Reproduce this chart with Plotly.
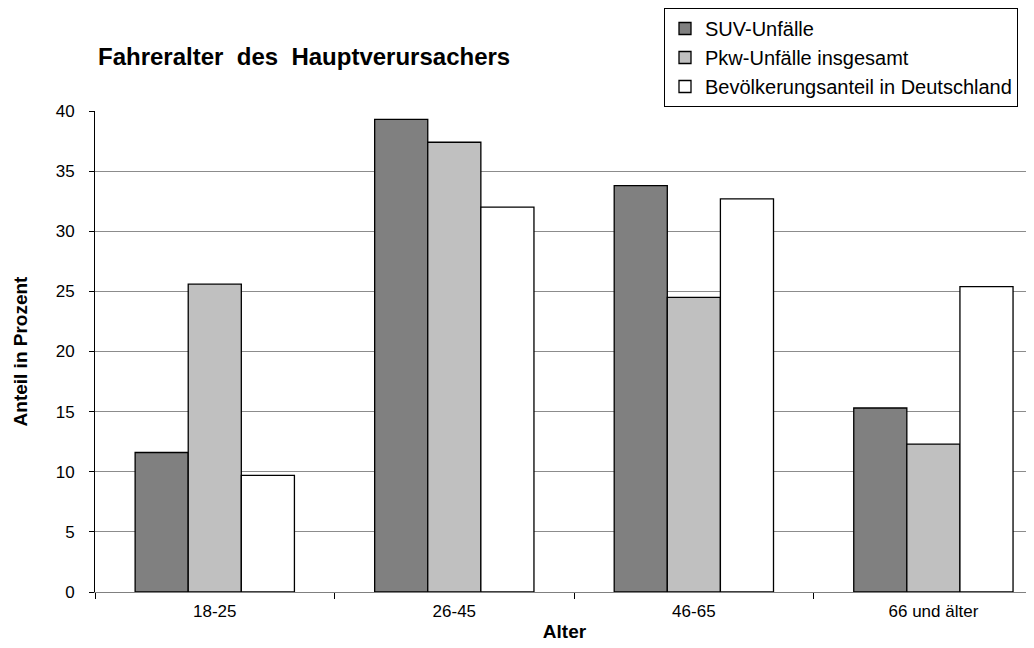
import plotly.graph_objects as go

categories = ["18-25", "26-45", "46-65", "66 und älter"]
suv_unfaelle = [11.6, 39.3, 33.8, 15.3]
pkw_unfaelle = [25.6, 37.4, 24.5, 12.3]
bevoelkerung = [9.7, 32.0, 32.7, 25.4]
y_ticks = [0, 5, 10, 15, 20, 25, 30, 35, 40]

FONT = "Liberation Sans, Arial, sans-serif"

fig = go.Figure()
series = [
    ("SUV-Unfälle", suv_unfaelle, "#808080"),
    ("Pkw-Unfälle insgesamt", pkw_unfaelle, "#c0c0c0"),
    ("Bevölkerungsanteil in Deutschland", bevoelkerung, "#ffffff"),
]
for i, (name, vals, col) in enumerate(series):
    fig.add_trace(go.Bar(
        x=categories, y=vals, name=name, legendgroup=f"g{i}",
        marker=dict(color=col, line=dict(color="#000000", width=1.3)),
    ))

# page has an 8px body margin; figure sized to fill the rest of the window
fig.update_layout(
    width=1026, height=640,
    margin=dict(l=87, r=0, t=103, b=56, autoexpand=False),
    paper_bgcolor="white", plot_bgcolor="white",
    barmode="group", bargap=0.335, bargroupgap=0,
    font=dict(family=FONT, size=17, color="#000000"),
    title=dict(text="<b>Fahreralter\u00a0 des\u00a0 Hauptverursachers</b>",
               font=dict(family=FONT, size=24, color="#000000"),
               x=90 / 1026, xref="container", xanchor="left",
               y=1 - 49 / 640, yref="container", yanchor="middle"),
    legend=dict(x=(664 - 95) / 939, xanchor="left", y=(592 - 8) / 481, yanchor="top",
                bgcolor="white", bordercolor="#000000", borderwidth=1,
                font=dict(family=FONT, size=20, color="#000000"),
                traceorder="grouped", tracegroupgap=0,
                itemwidth=30),
    showlegend=True,
)
fig.update_xaxes(
    range=[-0.5, 3.42], tickson="boundaries", ticks="outside", ticklen=6,
    tickcolor="#000000", showline=True, linecolor="#808080", linewidth=1,
    showgrid=False, tickfont=dict(size=17), ticklabelstandoff=4,
    title=dict(text="<b>Alter</b>", font=dict(size=19), standoff=4),
)
fig.update_yaxes(
    range=[0, 40], tickvals=y_ticks, ticks="outside", ticklen=5,
    tickcolor="#000000", showline=True, linecolor="#000000", linewidth=1,
    showgrid=True, gridcolor="#8c8c8c", gridwidth=1, zeroline=False,
    tickfont=dict(size=17), ticklabelstandoff=11,
    title=dict(text="<b>Anteil in Prozent</b>", font=dict(size=19), standoff=23),
)

fig.write_html("out.html")
